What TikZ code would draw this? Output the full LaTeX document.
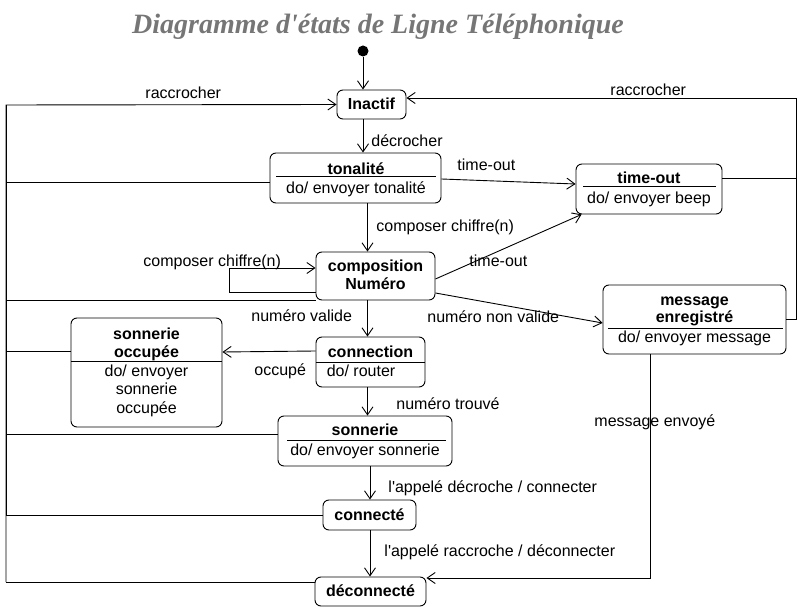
\documentclass[tikz,border=0pt]{standalone}
\usepackage{fontspec}
\setmainfont{Liberation Sans}
\newfontfamily\titlefont{Liberation Serif}
\usetikzlibrary{arrows.meta}
\definecolor{titlegray}{RGB}{118,118,118}
\tikzset{
  st/.style={draw, rounded corners=6pt, inner sep=0pt},
  tx/.style={font=\fontsize{16}{18}\selectfont, inner sep=0pt, align=center, anchor=base},
  txl/.style={font=\fontsize{16}{18}\selectfont, inner sep=0pt, anchor=base west},
  bx/.style={font=\bfseries\fontsize{16}{18}\selectfont, inner sep=0pt, align=center, anchor=base},
  tr/.style={-{Straight Barb[length=8pt,width=11pt]}},
}
\begin{document}
\begin{tikzpicture}[x=1pt, y=1pt, line width=0.9pt]
\useasboundingbox (0,0) rectangle (798,-609);

% title
\node[inner sep=0pt, anchor=base, text=titlegray, font=\titlefont\bfseries\itshape\fontsize{28}{30}\selectfont] (title) at (378,-34) {Diagramme d\textquotesingle états de Ligne Téléphonique};

% initial state
\node[fill, circle, inner sep=0pt, minimum size=11pt] (init) at (363,-51) {};

% states
\node[st, minimum width=69pt, minimum height=29pt] (inactif) at (371.5,-104.5) {};
\node[bx] (inactifT) at (371.5,-110) {Inactif};

\node[st, minimum width=171pt, minimum height=50pt] (ton) at (355.5,-178) {};
\node[bx] (tonT) at (356,-174.5) {tonalité};
\draw (276,-176.5) -- (436,-176.5);
\node[tx] (tonD) at (356,-193.5) {do/ envoyer tonalité};

\node[st, minimum width=146pt, minimum height=50pt] (tout) at (649,-189) {};
\node[bx] (toutT) at (649,-183.5) {time-out};
\draw (583,-186.5) -- (716,-186.5);
\node[tx] (toutD) at (649,-203.5) {do/ envoyer beep};

\node[st, minimum width=119pt, minimum height=48pt] (comp) at (375.5,-276) {};
\node[bx] (compT) at (375.5,-289.5) {composition\\Numéro};

\node[st, minimum width=183pt, minimum height=69pt] (msg) at (694.5,-319.5) {};
\node[bx, font=\bfseries\fontsize{16}{17}\selectfont] (msgT) at (694.5,-322.5) {message\\enregistré};
\draw (608,-328) -- (783,-328);
\node[tx] (msgD) at (694.5,-342.5) {do/ envoyer message};

\node[st, minimum width=151pt, minimum height=109pt] (socc) at (146.5,-372.5) {};
\node[bx] (soccT) at (146.5,-357.5) {sonnerie\\occupée};
\draw (71,-361) -- (222,-361);
\node[tx, font=\fontsize{16}{18.5}\selectfont] (soccD) at (146.5,-413.5) {do/ envoyer\\sonnerie\\occupée};

\node[st, minimum width=109pt, minimum height=50pt] (conn) at (370.5,-362) {};
\node[bx] (connT) at (370.5,-357.5) {connection};
\draw (316,-362) -- (425,-362);
\node[tx] (connD) at (361,-376.5) {do/ router};

\node[st, minimum width=174pt, minimum height=50pt] (son) at (365,-441) {};
\node[bx] (sonT) at (365,-435.5) {sonnerie};
\draw (287,-440) -- (446,-440);
\node[tx] (sonD) at (365,-455.5) {do/ envoyer sonnerie};

\node[st, minimum width=93pt, minimum height=30pt] (cte) at (369.5,-515) {};
\node[bx] (cteT) at (369.5,-520.5) {connecté};

\node[st, minimum width=111pt, minimum height=29pt] (dec) at (370.5,-591.5) {};
\node[bx] (decT) at (370.5,-596.5) {déconnecté};

% helper coordinates
\coordinate (L1) at (6,-105);
\coordinate (L2) at (6,-582);
\coordinate (R1) at (796,-98);
\coordinate (R2) at (796,-320);
\coordinate (X2) at (367.5,-230);
\coordinate (X3) at (370,-500);
\coordinate (S) at (229,-268);
\coordinate (M) at (650,-578);

% connectors
\draw[tr] (init) -- (init |- inactif.north);
\draw[tr] (inactif.south -| init) -- (ton.north -| init);
\draw[tr] ([yshift=-1pt]ton.east) -- ([yshift=5pt]tout.west);
\draw[tr] (ton.south -| X2) -- (comp.north -| X2);
\draw[tr] ([yshift=-16pt]comp.west) -| (S) -- (S -| comp.west);
\draw[tr] ([yshift=-3pt]comp.east) -- ([xshift=6pt]tout.south west);
\draw[tr] ([yshift=-17pt]comp.east) -- ([yshift=-3.5pt]msg.west);
\draw[tr] (comp.south -| X2) -- (conn.north -| X2);
\draw[tr] ([yshift=11pt]conn.west) -- ([yshift=20.5pt]socc.east);
\draw[tr] (conn.south -| X2) -- (son.north -| X2);
\draw[tr] (son.south -| X3) -- (cte.north -| X3);
\draw[tr] (cte.south -| X3) -- (dec.north -| X3);
\draw[tr] (msg.south -| M) -- (M) -- (M -| dec.east);

% left return to Inactif
\draw[tr] (L2) -- (L1) -- (inactif.west);
\draw ([yshift=-4pt]ton.west) -| (L1);
\draw (comp.south west) -| (L1);
\draw ([yshift=21.5pt]socc.west) -| (L1);
\draw ([yshift=7pt]son.west) -| (L1);
\draw (cte.west) -| (L1);
\draw ([yshift=9.5pt]dec.west) -- (L2);

% right return to Inactif
\draw[tr] (R2) -- (R1) -- ([yshift=6.5pt]inactif.east);
\draw ([yshift=11pt]tout.east) -| (R1);
\draw (msg.east) -| (R1);

% labels
\node[txl] (l1) at (145,-98.5) {raccrocher};
\node[txl] (l2) at (610,-95.5) {raccrocher};
\node[txl] (l3) at (371,-146.5) {décrocher};
\node[txl] (l4) at (457,-170.5) {time-out};
\node[txl] (l5) at (376,-231.5) {composer chiffre(n)};
\node[txl] (l6) at (143,-266.5) {composer chiffre(n)};
\node[txl] (l7) at (469,-266.5) {time-out};
\node[txl] (l8) at (251,-321.5) {numéro valide};
\node[txl] (l9) at (427,-322.5) {numéro non valide};
\node[txl] (l10) at (254,-375.5) {occupé};
\node[txl] (l11) at (396,-409.5) {numéro trouvé};
\node[txl] (l12) at (594,-426.5) {message envoyé};
\node[txl] (l13) at (388,-492.5) {l\textquotesingle appelé décroche / connecter};
\node[txl] (l14) at (384,-556.5) {l\textquotesingle appelé raccroche / déconnecter};
\end{tikzpicture}
\end{document}
